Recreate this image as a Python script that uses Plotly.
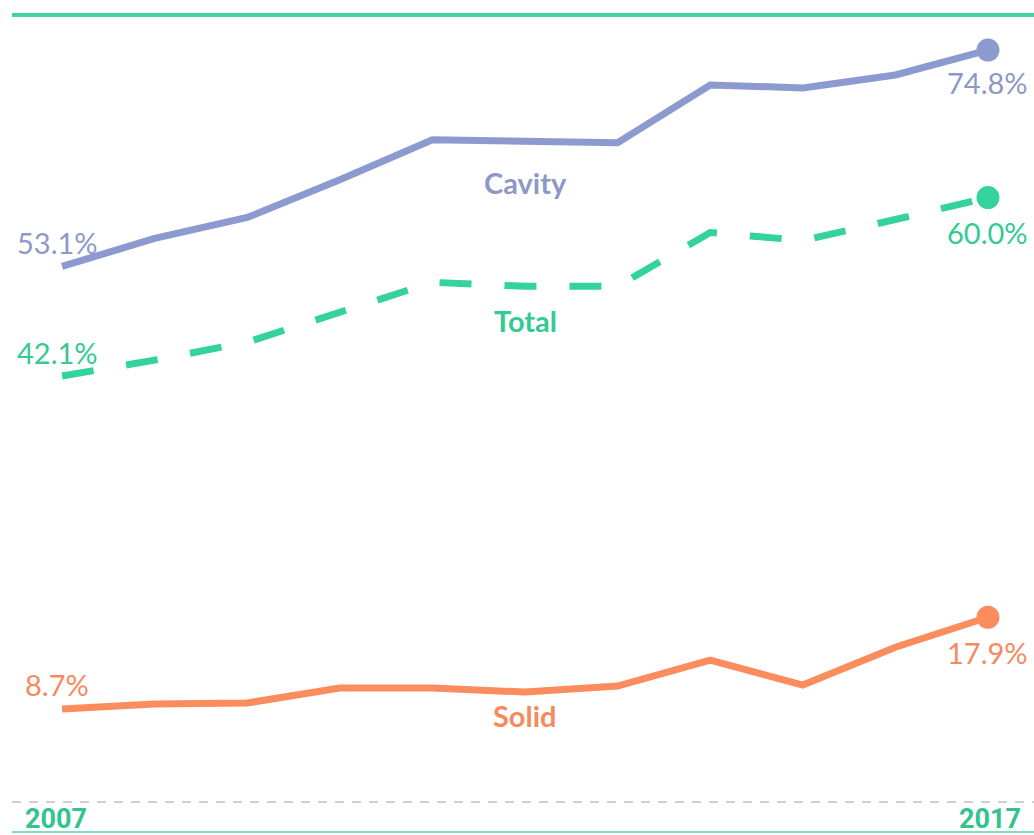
import plotly.graph_objects as go

# ---- data ----
years = list(range(2007, 2018))
cavity = [53.1, 55.9, 58.0, 61.8, 65.8, 65.6, 65.5, 71.3, 71.0, 72.3, 74.8]
total = [42.1, 43.7, 45.5, 48.5, 51.5, 51.1, 51.1, 56.5, 55.7, 57.8, 60.0]
solid = [8.7, 9.2, 9.3, 10.8, 10.8, 10.4, 11.0, 13.6, 11.1, 14.9, 17.9]
series_names = ["Cavity", "Total", "Solid"]
year_labels = ["2007", "2017"]

# ---- styles ----
C_CAV = "#8C9ACF"
C_TOT = "#34D29C"
C_SOL = "#FA8C5E"
T_CAV = "#8D98C6"
T_TOT = "#35C993"
T_SOL = "#F58A5E"
FONT = "Lato"

fig = go.Figure()
specs = [
    (series_names[0], cavity, C_CAV, T_CAV, "solid", -32, -41),
    (series_names[1], total, C_TOT, T_TOT, "32px,33px", -35, -34),
    (series_names[2], solid, C_SOL, T_SOL, "solid", -35, -23),
]
for name, vals, col, tcol, dash, end_shift, name_shift in specs:
    fig.add_trace(go.Scatter(x=years, y=vals, mode="lines", name=name,
                             line=dict(color=col, width=7, dash=dash),
                             hoverinfo="skip", showlegend=False))
    fig.add_trace(go.Scatter(x=[years[-1]], y=[vals[-1]], mode="markers",
                             marker=dict(color=col, size=23),
                             hoverinfo="skip", showlegend=False))
    # start label
    fig.add_annotation(x=years[0], y=vals[0], text=f"{vals[0]:.1f}%",
                       showarrow=False, xshift=-5, yshift=24,
                       font=dict(family=FONT, size=29, color=tcol))
    # end label
    fig.add_annotation(x=years[-1], y=vals[-1], text=f"{vals[-1]:.1f}%",
                       showarrow=False, xshift=0, yshift=end_shift,
                       font=dict(family=FONT, size=29, color=tcol))
    # series name
    mid = years.index(2012)
    fig.add_annotation(x=years[mid], y=vals[mid], text=f"<b>{name}</b>",
                       showarrow=False, xshift=0, yshift=name_shift,
                       font=dict(family=FONT, size=29, color=tcol))

# year labels
for lab, xs in zip(year_labels, [-6, 2]):
    fig.add_annotation(x=int(lab), y=1 - 819 / 835, yref="paper",
                       yanchor="middle", xanchor="center",
                       text=f"<b>{lab}</b>", showarrow=False, xshift=xs,
                       font=dict(family="Roboto", size=27, color="#34C38F"))

# decorative rules
fig.add_shape(type="line", xref="paper", yref="paper", x0=12 / 1034, x1=1,
              y0=1 - 15 / 835, y1=1 - 15 / 835,
              line=dict(color="#3ED4A0", width=4))
fig.add_shape(type="line", xref="paper", yref="paper", x0=12 / 1034, x1=1,
              y0=1 - 802 / 835, y1=1 - 802 / 835,
              line=dict(color="#CFCFCF", width=2, dash="9px,8px"))
fig.add_shape(type="line", xref="paper", yref="paper", x0=12 / 1034, x1=1,
              y0=1 - 832 / 835, y1=1 - 832 / 835,
              line=dict(color="#7FE0BF", width=2))

fig.update_layout(
    width=1034, height=835,
    margin=dict(l=0, r=0, t=0, b=0),
    paper_bgcolor="white", plot_bgcolor="white",
    xaxis=dict(range=[2006.330, 2017.497], visible=False, fixedrange=True),
    yaxis=dict(range=[-3.94, 79.82], visible=False, fixedrange=True),
)

fig.write_html("out.html", config={"displayModeBar": False},
               post_script="document.body.style.margin='0';document.body.style.overflow='hidden';")
